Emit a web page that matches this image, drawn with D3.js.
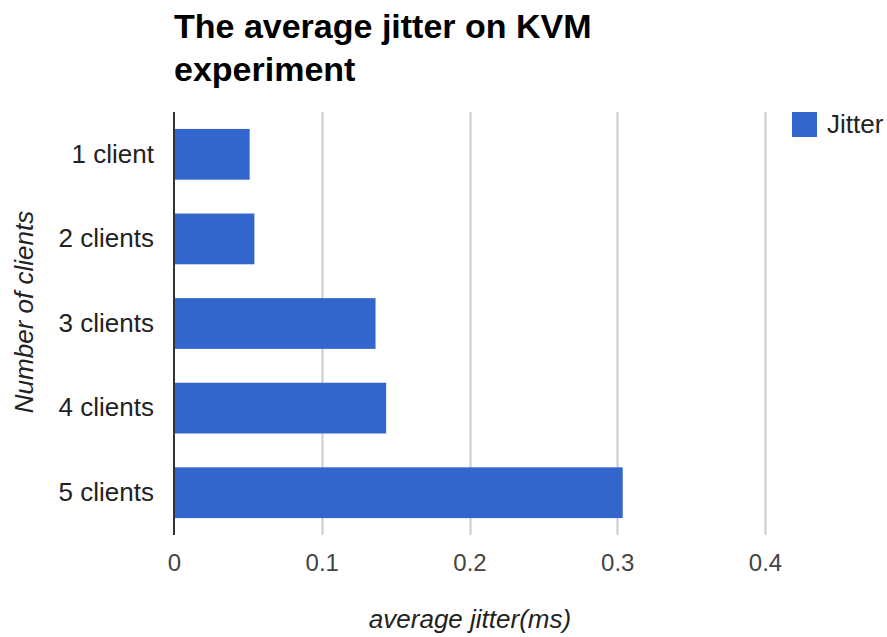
<!DOCTYPE html>
<html>
<head>
<meta charset="utf-8">
<script src="https://cdn.jsdelivr.net/npm/d3@7"></script>
<style>
  html, body { margin: 0; padding: 0; background: #fff; }
  svg { display: block; font-family: "Liberation Sans", Arial, sans-serif; }
</style>
</head>
<body>
<svg id="chart" width="887" height="637"></svg>
<script>
// Average jitter per number of concurrent clients (ms)
const categories = ["1 client", "2 clients", "3 clients", "4 clients", "5 clients"];
const jitter = [0.0512, 0.0544, 0.1364, 0.1436, 0.3037];
const xTicks = [0, 0.1, 0.2, 0.3, 0.4];
const seriesName = "Jitter";

const svg = d3.select("#chart");
const plot = { left: 174, right: 765, top: 112, bottom: 535 };

const x = d3.scaleLinear().domain([0, 0.4]).range([plot.left, plot.right]);
const y = d3.scaleBand().domain(categories).range([plot.top, plot.bottom]).paddingInner(0.4).paddingOuter(0.2);

// title
const title = svg.append("text")
  .attr("x", 174).attr("font-size", 34).attr("font-weight", "bold").attr("fill", "#000");
title.append("tspan").attr("x", 174).attr("y", 38).text("The average jitter on KVM");
title.append("tspan").attr("x", 174).attr("y", 81).text("experiment");

// vertical gridlines
svg.append("g")
  .selectAll("line")
  .data(xTicks.filter(d => d > 0))
  .join("line")
  .attr("x1", d => Math.round(x(d)) + 0.5).attr("x2", d => Math.round(x(d)) + 0.5)
  .attr("y1", plot.top).attr("y2", plot.bottom)
  .attr("stroke", "#cccccc").attr("stroke-width", 2);

// bars
svg.append("g")
  .selectAll("rect")
  .data(categories.map((c, i) => ({ c, v: jitter[i] })))
  .join("rect")
  .attr("x", x(0))
  .attr("y", d => y(d.c))
  .attr("width", d => x(d.v) - x(0))
  .attr("height", y.bandwidth())
  .attr("fill", "#3366cc");

// baseline axis
svg.append("line")
  .attr("x1", x(0)).attr("x2", x(0))
  .attr("y1", plot.top).attr("y2", plot.bottom)
  .attr("stroke", "#333").attr("stroke-width", 2);

// x axis tick labels
const xAxis = d3.axisBottom(x).tickValues(xTicks).tickSize(0).tickPadding(0)
  .tickFormat(d => d === 0 ? "0" : d3.format(".1f")(d));
const gx = svg.append("g").attr("transform", `translate(0, 554)`).call(xAxis);
gx.select(".domain").remove();
gx.selectAll("text")
  .attr("font-size", 24).attr("fill", "#444").attr("dy", "0.71em")
  .attr("font-family", "\"Liberation Sans\", Arial, sans-serif");

// y axis category labels
const yAxis = d3.axisLeft(y).tickSize(0).tickPadding(20);
const gy = svg.append("g").attr("transform", `translate(${x(0)}, 0)`).call(yAxis);
gy.select(".domain").remove();
gy.selectAll("text")
  .attr("font-size", 26).attr("fill", "#222")
  .attr("font-family", "\"Liberation Sans\", Arial, sans-serif");

// axis titles
svg.append("text")
  .attr("x", 470).attr("y", 628)
  .attr("text-anchor", "middle").attr("font-size", 26).attr("font-style", "italic").attr("fill", "#222")
  .text("average jitter(ms)");

svg.append("text")
  .attr("transform", `translate(33, 312) rotate(-90)`)
  .attr("text-anchor", "middle").attr("font-size", 26).attr("font-style", "italic").attr("fill", "#222")
  .text("Number of clients");

// legend
const lg = svg.append("g").attr("transform", "translate(792, 112)");
lg.append("rect").attr("width", 25).attr("height", 25).attr("fill", "#3366cc");
lg.append("text").attr("x", 35).attr("y", 21).attr("font-size", 26).attr("fill", "#222").text(seriesName);
</script>
</body>
</html>
